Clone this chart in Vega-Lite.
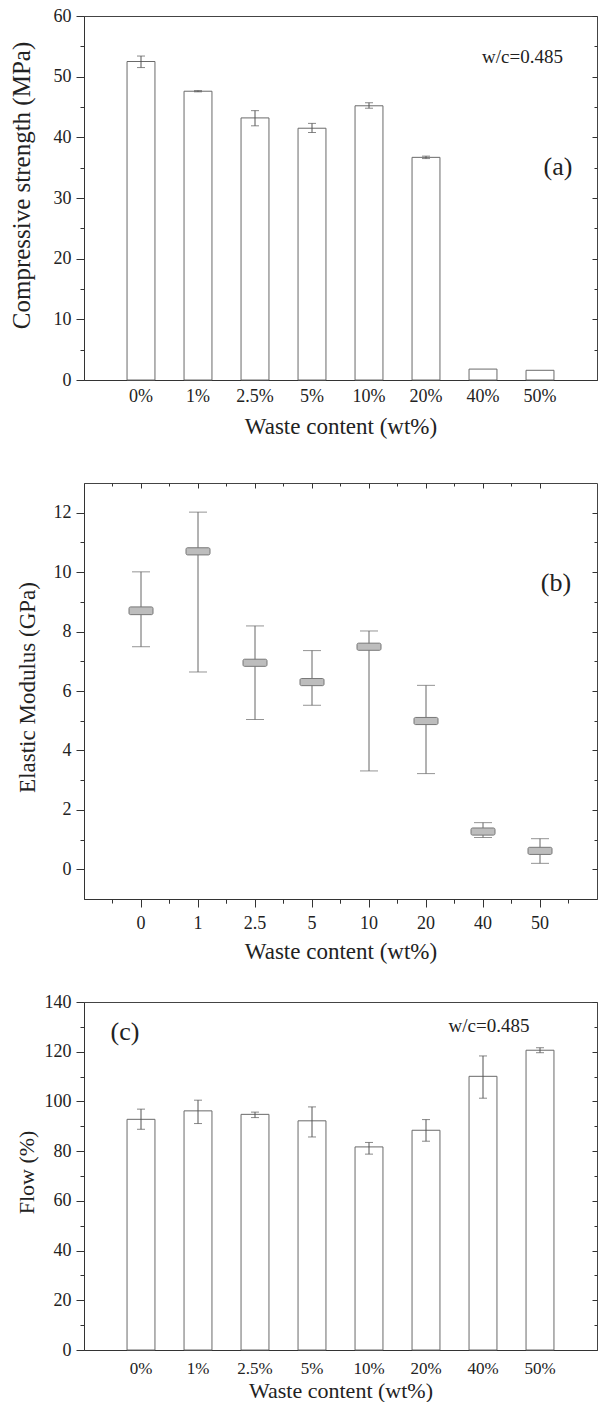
{
  "$schema": "https://vega.github.io/schema/vega-lite/v6.json",
  "background": "white",
  "padding": {"left": 8, "top": 6, "right": 0, "bottom": 0},
  "spacing": 103,
  "bounds": "flush",
  "config": {
    "view": {"stroke": "#444", "strokeWidth": 1},
    "axis": {
      "labelFont": "Liberation Serif", "titleFont": "Liberation Serif",
      "labelFontSize": 18, "titleFontSize": 23, "titleFontWeight": "normal",
      "labelColor": "#222", "titleColor": "#222",
      "domainColor": "#333", "tickColor": "#333", "grid": false
    },
    "text": {"font": "Liberation Serif", "color": "#222"}
  },
  "datasets": {
    "strength": [
      {"content": "0%", "mean": 52.5, "lo": 51.5, "hi": 53.4},
      {"content": "1%", "mean": 47.6, "lo": 47.5, "hi": 47.7},
      {"content": "2.5%", "mean": 43.2, "lo": 41.9, "hi": 44.4},
      {"content": "5%", "mean": 41.5, "lo": 40.8, "hi": 42.3},
      {"content": "10%", "mean": 45.2, "lo": 44.8, "hi": 45.7},
      {"content": "20%", "mean": 36.7, "lo": 36.5, "hi": 36.9},
      {"content": "40%", "mean": 1.8, "lo": null, "hi": null},
      {"content": "50%", "mean": 1.6, "lo": null, "hi": null}
    ],
    "modulus": [
      {"content": "0", "box_lo": 8.57, "box_hi": 8.83, "min": 7.49, "max": 10.01},
      {"content": "1", "box_lo": 10.58, "box_hi": 10.82, "min": 6.64, "max": 12.02},
      {"content": "2.5", "box_lo": 6.83, "box_hi": 7.07, "min": 5.04, "max": 8.19},
      {"content": "5", "box_lo": 6.18, "box_hi": 6.42, "min": 5.52, "max": 7.36},
      {"content": "10", "box_lo": 7.37, "box_hi": 7.61, "min": 3.31, "max": 8.02},
      {"content": "20", "box_lo": 4.87, "box_hi": 5.11, "min": 3.22, "max": 6.19},
      {"content": "40", "box_lo": 1.15, "box_hi": 1.39, "min": 1.07, "max": 1.57},
      {"content": "50", "box_lo": 0.5, "box_hi": 0.74, "min": 0.2, "max": 1.03}
    ],
    "flow": [
      {"content": "0%", "mean": 92.8, "lo": 88.8, "hi": 96.9},
      {"content": "1%", "mean": 96.2, "lo": 91.1, "hi": 100.5},
      {"content": "2.5%", "mean": 94.8, "lo": 93.5, "hi": 95.7},
      {"content": "5%", "mean": 92.2, "lo": 85.7, "hi": 97.8},
      {"content": "10%", "mean": 81.7, "lo": 78.8, "hi": 83.5},
      {"content": "20%", "mean": 88.4, "lo": 84.0, "hi": 92.7},
      {"content": "40%", "mean": 110.1, "lo": 101.3, "hi": 118.3},
      {"content": "50%", "mean": 120.6, "lo": 119.6, "hi": 121.6}
    ]
  },
  "vconcat": [
    {
      "width": 513, "height": 364,
      "data": {"name": "strength"},
      "resolve": {"axis": {"x": "independent", "y": "independent"}},
      "layer": [
        {
          "mark": {"type": "bar", "fill": "white", "stroke": "#6a6a6a", "strokeWidth": 1, "width": {"band": 0.49}},
          "encoding": {
            "x": {"field": "content", "type": "nominal", "sort": null,
              "scale": {"domain": ["0%", "1%", "2.5%", "5%", "10%", "20%", "40%", "50%"], "paddingInner": 0, "paddingOuter": 0.5},
              "axis": {"orient": "bottom", "title": "Waste content (wt%)", "labelAngle": 0, "tickSize": 0, "labelPadding": 7, "titleY": 46, "titleBaseline": "middle"}},
            "y": {"field": "mean", "type": "quantitative", "scale": {"domain": [0, 60], "nice": false},
              "axis": {"orient": "left", "title": "Compressive strength (MPa)", "titleFontSize": 25, "values": [0, 10, 20, 30, 40, 50, 60], "tickSize": 8, "labelPadding": 5, "titleX": -63, "titleY": 169, "titleBaseline": "middle"}}
          }
        },
        {
          "mark": {"type": "rule", "color": "#555", "strokeWidth": 1},
          "encoding": {
            "x": {"field": "content", "type": "nominal", "sort": null, "axis": null},
            "y": {"field": "lo", "type": "quantitative", "axis": {"orient": "left", "values": [5, 15, 25, 35, 45, 55], "labels": false, "tickSize": 4, "domain": false, "title": null}},
            "y2": {"field": "hi"}
          }
        },
        {
          "mark": {"type": "tick", "color": "#555", "size": 8, "thickness": 1},
          "encoding": {
            "x": {"field": "content", "type": "nominal", "sort": null, "axis": null},
            "y": {"field": "lo", "type": "quantitative", "axis": {"orient": "right", "values": [0, 10, 20, 30, 40, 50, 60], "labels": false, "tickSize": 5, "offset": -5, "domain": false, "title": null}}
          }
        },
        {
          "mark": {"type": "tick", "color": "#555", "size": 8, "thickness": 1},
          "encoding": {
            "x": {"field": "content", "type": "nominal", "sort": null, "axis": null},
            "y": {"field": "hi", "type": "quantitative", "axis": {"orient": "right", "values": [5, 15, 25, 35, 45, 55], "labels": false, "tickSize": 3, "offset": -3, "domain": false, "title": null}}
          }
        },
        {
          "data": {"values": [{"t": "w/c=0.485"}]},
          "mark": {"type": "text", "fontSize": 19, "align": "right", "baseline": "middle", "dx": 23},
          "encoding": {
            "x": {"datum": "50%", "type": "nominal", "axis": null},
            "y": {"datum": 53.2, "type": "quantitative", "axis": null},
            "text": {"field": "t"}
          }
        },
        {
          "data": {"values": [{"t": "(a)"}]},
          "mark": {"type": "text", "fontSize": 26, "align": "center", "baseline": "middle", "dx": 18},
          "encoding": {
            "x": {"datum": "50%", "type": "nominal", "axis": null},
            "y": {"datum": 35.1, "type": "quantitative", "axis": null},
            "text": {"field": "t"}
          }
        }
      ]
    },
    {
      "width": 513, "height": 416,
      "data": {"name": "modulus"},
      "resolve": {"axis": {"x": "independent", "y": "independent"}},
      "layer": [
        {
          "mark": {"type": "rule", "color": "#666", "strokeWidth": 1},
          "encoding": {
            "x": {"field": "content", "type": "nominal", "sort": null,
              "scale": {"domain": ["0", "1", "2.5", "5", "10", "20", "40", "50"], "paddingInner": 0, "paddingOuter": 0.5},
              "axis": {"orient": "bottom", "title": "Waste content (wt%)", "labelAngle": 0, "tickSize": 8, "labelPadding": 7, "titleY": 52, "titleBaseline": "middle"}},
            "y": {"field": "min", "type": "quantitative", "scale": {"domain": [-1, 13], "nice": false, "zero": false},
              "axis": {"orient": "left", "title": "Elastic Modulus (GPa)", "values": [0, 2, 4, 6, 8, 10, 12], "tickSize": 8, "labelPadding": 5, "titleX": -57, "titleY": 204, "titleBaseline": "middle"}},
            "y2": {"field": "max"}
          }
        },
        {
          "mark": {"type": "tick", "color": "#666", "size": 18, "thickness": 1},
          "encoding": {
            "x": {"field": "content", "type": "nominal", "sort": null,
              "axis": {"orient": "bottom", "bandPosition": 0, "labels": false, "tickSize": 4, "domain": false, "title": null}},
            "y": {"field": "min", "type": "quantitative", "axis": {"orient": "left", "values": [1, 3, 5, 7, 9, 11], "labels": false, "tickSize": 4, "domain": false, "title": null}}
          }
        },
        {
          "mark": {"type": "tick", "color": "#666", "size": 18, "thickness": 1},
          "encoding": {
            "x": {"field": "content", "type": "nominal", "sort": null,
              "axis": {"orient": "top", "labels": false, "tickSize": 5, "offset": -5, "domain": false, "title": null}},
            "y": {"field": "max", "type": "quantitative", "axis": {"orient": "right", "values": [0, 2, 4, 6, 8, 10, 12], "labels": false, "tickSize": 5, "offset": -5, "domain": false, "title": null}}
          }
        },
        {
          "mark": {"type": "bar", "width": 24, "fill": "#bdbdbd", "stroke": "#777", "strokeWidth": 1, "cornerRadius": 1.5},
          "encoding": {
            "x": {"field": "content", "type": "nominal", "sort": null,
              "axis": {"orient": "top", "bandPosition": 0, "labels": false, "tickSize": 3, "offset": -3, "domain": false, "title": null}},
            "y": {"field": "box_lo", "type": "quantitative", "axis": {"orient": "right", "values": [1, 3, 5, 7, 9, 11], "labels": false, "tickSize": 3, "offset": -3, "domain": false, "title": null}},
            "y2": {"field": "box_hi"}
          }
        },
        {
          "data": {"values": [{"t": "(b)"}]},
          "mark": {"type": "text", "fontSize": 26, "align": "center", "baseline": "middle", "dx": 16},
          "encoding": {
            "x": {"datum": "50", "type": "nominal",
              "axis": {"orient": "bottom", "bandPosition": 1, "labels": false, "tickSize": 4, "domain": false, "title": null}},
            "y": {"datum": 9.65, "type": "quantitative", "axis": null},
            "text": {"field": "t"}
          }
        }
      ]
    },
    {
      "width": 513, "height": 348,
      "data": {"name": "flow"},
      "resolve": {"axis": {"x": "independent", "y": "independent"}},
      "layer": [
        {
          "mark": {"type": "bar", "fill": "white", "stroke": "#6a6a6a", "strokeWidth": 1, "width": {"band": 0.49}},
          "encoding": {
            "x": {"field": "content", "type": "nominal", "sort": null,
              "scale": {"domain": ["0%", "1%", "2.5%", "5%", "10%", "20%", "40%", "50%"], "paddingInner": 0, "paddingOuter": 0.5},
              "axis": {"orient": "bottom", "title": "Waste content (wt%)", "labelAngle": 0, "tickSize": 0, "labelPadding": 10, "labelFontSize": 17, "titleY": 40, "titleFontSize": 22, "titleBaseline": "middle"}},
            "y": {"field": "mean", "type": "quantitative", "scale": {"domain": [0, 140], "nice": false},
              "axis": {"orient": "left", "title": "Flow (%)", "titleFontSize": 22, "values": [0, 20, 40, 60, 80, 100, 120, 140], "tickSize": 8, "labelPadding": 5, "titleX": -58, "titleY": 170, "titleBaseline": "middle"}}
          }
        },
        {
          "mark": {"type": "rule", "color": "#555", "strokeWidth": 1},
          "encoding": {
            "x": {"field": "content", "type": "nominal", "sort": null, "axis": null},
            "y": {"field": "lo", "type": "quantitative", "axis": {"orient": "left", "values": [10, 30, 50, 70, 90, 110, 130], "labels": false, "tickSize": 4, "domain": false, "title": null}},
            "y2": {"field": "hi"}
          }
        },
        {
          "mark": {"type": "tick", "color": "#555", "size": 8, "thickness": 1},
          "encoding": {
            "x": {"field": "content", "type": "nominal", "sort": null, "axis": null},
            "y": {"field": "lo", "type": "quantitative", "axis": {"orient": "right", "values": [0, 20, 40, 60, 80, 100, 120, 140], "labels": false, "tickSize": 5, "offset": -5, "domain": false, "title": null}}
          }
        },
        {
          "mark": {"type": "tick", "color": "#555", "size": 8, "thickness": 1},
          "encoding": {
            "x": {"field": "content", "type": "nominal", "sort": null, "axis": null},
            "y": {"field": "hi", "type": "quantitative", "axis": {"orient": "right", "values": [10, 30, 50, 70, 90, 110, 130], "labels": false, "tickSize": 3, "offset": -3, "domain": false, "title": null}}
          }
        },
        {
          "data": {"values": [{"t": "w/c=0.485"}]},
          "mark": {"type": "text", "fontSize": 19, "align": "center", "baseline": "middle", "dx": 6},
          "encoding": {
            "x": {"datum": "40%", "type": "nominal", "axis": null},
            "y": {"datum": 130.3, "type": "quantitative", "axis": null},
            "text": {"field": "t"}
          }
        },
        {
          "data": {"values": [{"t": "(c)"}]},
          "mark": {"type": "text", "fontSize": 26, "align": "center", "baseline": "middle", "dx": -16},
          "encoding": {
            "x": {"datum": "0%", "type": "nominal", "axis": null},
            "y": {"datum": 127.9, "type": "quantitative", "axis": null},
            "text": {"field": "t"}
          }
        }
      ]
    }
  ]
}
